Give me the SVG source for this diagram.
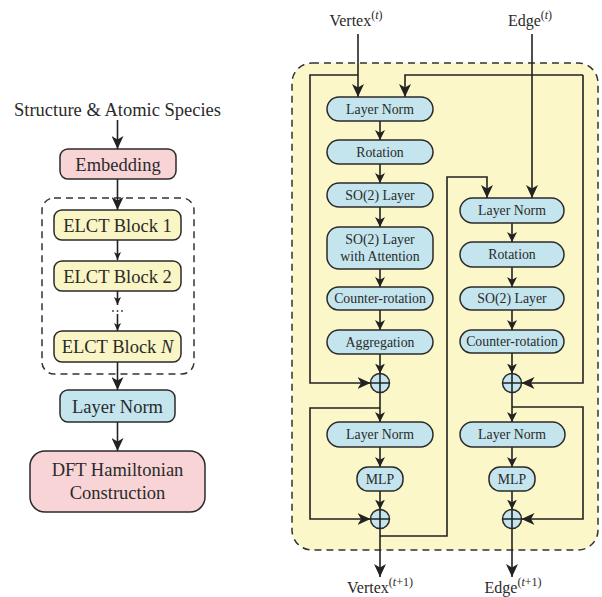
<svg xmlns="http://www.w3.org/2000/svg" width="602" height="597" viewBox="0 0 602 597" font-family="'Liberation Serif', 'Times New Roman', 'DejaVu Serif', serif">
<style>
text{font-family:'Liberation Serif','Times New Roman','DejaVu Serif',serif;fill:#2a2a2a;text-anchor:middle}
.big{font-size:18.5px}
.sm{font-size:13.8px}
.lbl{font-size:16px}
.ln{fill:none;stroke:#222;stroke-width:1.6}
.box{stroke:#2a2a2a;stroke-width:1.5}
.pink{fill:#f8d4d6}
.yel{fill:#faf5c5}
.blue{fill:#c4e5ee}
.dash{fill:none;stroke:#333;stroke-width:1.5;stroke-dasharray:7 5}
.a1{marker-end:url(#ah)}
.a2{marker-end:url(#as)}
</style>
<defs>
<marker id="ah" viewBox="0 0 13 12" markerWidth="13" markerHeight="12" refX="13" refY="6" orient="auto" markerUnits="userSpaceOnUse"><path d="M0,0 L13,6 L0,12 L3.5,6 z" fill="#222"/></marker>
<marker id="as" viewBox="0 0 10 10" markerWidth="10" markerHeight="10" refX="10" refY="5" orient="auto" markerUnits="userSpaceOnUse"><path d="M0,0 L10,5 L0,10 L2.8,5 z" fill="#222"/></marker>
<marker id="at" viewBox="0 0 8 7" markerWidth="8" markerHeight="7" refX="8" refY="3.5" orient="auto" markerUnits="userSpaceOnUse"><path d="M0,0 L8,3.5 L0,7 L2,3.5 z" fill="#222"/></marker>
</defs>

<!-- Right panel background -->
<rect x="292" y="63" width="306" height="487" rx="20" fill="#fcf7c9" stroke="#333" stroke-width="1.5" stroke-dasharray="7 5"/>
<!-- Left panel dashed group -->
<rect x="42" y="198" width="152" height="176" rx="12" class="dash"/>

<g id="connectors">
<line x1="117.5" y1="120" x2="117.5" y2="149" class="ln a1"/>
<line x1="117.5" y1="179" x2="117.5" y2="210" class="ln a1"/>
<line x1="117.5" y1="240" x2="117.5" y2="260" class="ln" marker-end="url(#at)"/>
<line x1="117.5" y1="291" x2="117.5" y2="305" class="ln" marker-end="url(#at)"/>
<line x1="117.5" y1="314" x2="117.5" y2="331" class="ln" marker-end="url(#at)"/>
<line x1="117.5" y1="362" x2="117.5" y2="390" class="ln a1"/>
<line x1="117.5" y1="422" x2="117.5" y2="451" class="ln a1"/>

<line x1="358" y1="34" x2="358" y2="97" class="ln a1"/>
<polyline points="358,75 310,75 310,383 370.5,383" class="ln a1"/>
<polyline points="583,75 405,75 405,97" class="ln a1"/>
<polyline points="583,75 583,383 521.5,383" class="ln a1"/>
<line x1="532" y1="34" x2="532" y2="198" class="ln a1"/>

<line x1="380" y1="121" x2="380" y2="140" class="ln a2"/>
<line x1="380" y1="164" x2="380" y2="183" class="ln a2"/>
<line x1="380" y1="207" x2="380" y2="227" class="ln a2"/>
<line x1="380" y1="269" x2="380" y2="287" class="ln a2"/>
<line x1="380" y1="310" x2="380" y2="330" class="ln a2"/>
<line x1="380" y1="354" x2="380" y2="373.5" class="ln a2"/>
<line x1="380" y1="392.5" x2="380" y2="422" class="ln a2"/>
<polyline points="380,408 310,408 310,519 370.5,519" class="ln a1"/>
<line x1="380" y1="447" x2="380" y2="467" class="ln a2"/>
<line x1="380" y1="491" x2="380" y2="509.5" class="ln a2"/>
<line x1="380" y1="528.5" x2="380" y2="577" class="ln a1"/>
<polyline points="380,536 447,536 447,177 487,177 487,198" class="ln a1"/>

<line x1="512" y1="223" x2="512" y2="242" class="ln a2"/>
<line x1="512" y1="267" x2="512" y2="287" class="ln a2"/>
<line x1="512" y1="310" x2="512" y2="330" class="ln a2"/>
<line x1="512" y1="353" x2="512" y2="373.5" class="ln a2"/>
<line x1="512" y1="392.5" x2="512" y2="422" class="ln a2"/>
<polyline points="512,407 583,407 583,519 521.5,519" class="ln a1"/>
<line x1="512" y1="447" x2="512" y2="467" class="ln a2"/>
<line x1="512" y1="491" x2="512" y2="509.5" class="ln a2"/>
<line x1="512" y1="528.5" x2="512" y2="577" class="ln a1"/>
</g>

<g id="ellipsis" fill="#333">
<circle cx="113" cy="311" r="0.9"/><circle cx="117.5" cy="311" r="0.9"/><circle cx="122" cy="311" r="0.9"/>
</g>

<text id="input-label" class="big" x="117.5" y="116">Structure &amp; Atomic Species</text>
<g id="embedding"><rect x="60" y="149" width="116" height="30" rx="8" class="box pink"/><text class="big" x="118" y="170.5">Embedding</text></g>
<g id="elct1"><rect x="54" y="210" width="127" height="30" rx="8" class="box yel"/><text class="big" x="117.5" y="231.5">ELCT Block 1</text></g>
<g id="elct2"><rect x="54" y="261" width="127" height="30" rx="8" class="box yel"/><text class="big" x="117.5" y="282.5">ELCT Block 2</text></g>
<g id="elctN"><rect x="54" y="331" width="127" height="31" rx="8" class="box yel"/><text class="big" x="117.5" y="353">ELCT Block <tspan font-style="italic">N</tspan></text></g>
<g id="layernorm-out"><rect x="60" y="390" width="115" height="32" rx="8" class="box blue"/><text class="big" x="117.5" y="412.5">Layer Norm</text></g>
<g id="dft"><rect x="30" y="451" width="175" height="61" rx="15" class="box pink"/><text class="big" x="117.5" y="476">DFT Hamiltonian</text><text class="big" x="117.5" y="499">Construction</text></g>

<text class="lbl" x="356" y="26">Vertex<tspan font-size="12" dy="-7">(<tspan font-style="italic">t</tspan>)</tspan></text>
<text class="lbl" x="530" y="26">Edge<tspan font-size="12" dy="-7">(<tspan font-style="italic">t</tspan>)</tspan></text>
<text class="lbl" x="380" y="593">Vertex<tspan font-size="12" dy="-7">(<tspan font-style="italic">t</tspan>+1)</tspan></text>
<text class="lbl" x="513" y="593">Edge<tspan font-size="12" dy="-7">(<tspan font-style="italic">t</tspan>+1)</tspan></text>

<g id="v-ln1"><rect x="327" y="97" width="106" height="24" rx="12" class="box blue"/><text class="sm" x="380" y="113.8">Layer Norm</text></g>
<g id="v-rot"><rect x="327" y="140" width="106" height="24" rx="12" class="box blue"/><text class="sm" x="380" y="156.8">Rotation</text></g>
<g id="v-so2"><rect x="327" y="183" width="106" height="24" rx="12" class="box blue"/><text class="sm" x="380" y="199.8">SO(2) Layer</text></g>
<g id="v-so2att"><rect x="327" y="227" width="106" height="42" rx="12" class="box blue"/><text class="sm" x="380" y="244">SO(2) Layer</text><text class="sm" x="380" y="261">with Attention</text></g>
<g id="v-crot"><rect x="327" y="287" width="106" height="23" rx="11.5" class="box blue"/><text class="sm" x="380" y="303.3">Counter-rotation</text></g>
<g id="v-agg"><rect x="327" y="330" width="106" height="24" rx="12" class="box blue"/><text class="sm" x="380" y="346.8">Aggregation</text></g>
<g id="v-add1"><circle cx="380" cy="383" r="9.5" class="box blue"/><path d="M370.5,383 H389.5 M380,373.5 V392.5" class="ln"/></g>
<g id="v-ln2"><rect x="327" y="422" width="106" height="25" rx="12.5" class="box blue"/><text class="sm" x="380" y="439.3">Layer Norm</text></g>
<g id="v-mlp"><rect x="357" y="467" width="46" height="24" rx="11" class="box blue"/><text class="sm" x="380" y="483.8">MLP</text></g>
<g id="v-add2"><circle cx="380" cy="519" r="9.5" class="box blue"/><path d="M370.5,519 H389.5 M380,509.5 V528.5" class="ln"/></g>

<g id="e-ln1"><rect x="460" y="198" width="104" height="25" rx="12.5" class="box blue"/><text class="sm" x="512" y="215.3">Layer Norm</text></g>
<g id="e-rot"><rect x="460" y="242" width="104" height="25" rx="12.5" class="box blue"/><text class="sm" x="512" y="259.3">Rotation</text></g>
<g id="e-so2"><rect x="460" y="287" width="104" height="23" rx="11.5" class="box blue"/><text class="sm" x="512" y="303.3">SO(2) Layer</text></g>
<g id="e-crot"><rect x="460" y="330" width="104" height="23" rx="11.5" class="box blue"/><text class="sm" x="512" y="346.3">Counter-rotation</text></g>
<g id="e-add1"><circle cx="512" cy="383" r="9.5" class="box blue"/><path d="M502.5,383 H521.5 M512,373.5 V392.5" class="ln"/></g>
<g id="e-ln2"><rect x="460" y="422" width="105" height="25" rx="12.5" class="box blue"/><text class="sm" x="512" y="439.3">Layer Norm</text></g>
<g id="e-mlp"><rect x="489" y="467" width="46" height="24" rx="11" class="box blue"/><text class="sm" x="512" y="483.8">MLP</text></g>
<g id="e-add2"><circle cx="512" cy="519" r="9.5" class="box blue"/><path d="M502.5,519 H521.5 M512,509.5 V528.5" class="ln"/></g>
</svg>
